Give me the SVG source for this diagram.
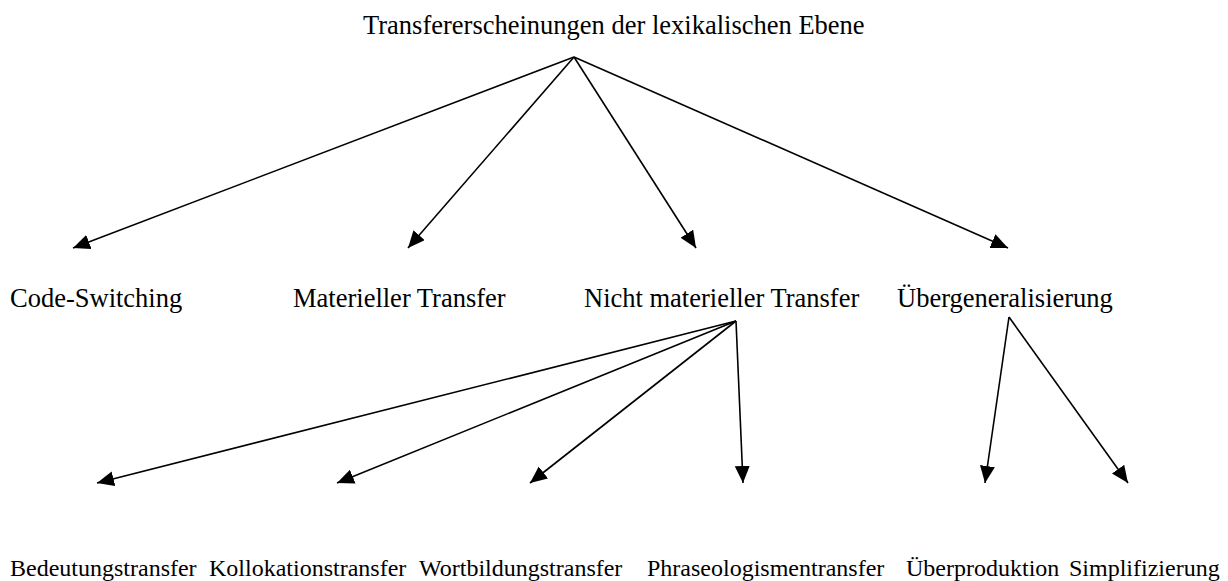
<svg xmlns="http://www.w3.org/2000/svg" width="1228" height="581" viewBox="0 0 1228 581">
<style>
text{font-family:"Liberation Serif","Times New Roman",serif;fill:#000}
.t1{font-size:26.5px}
.t2{font-size:24px}
.c line{stroke:#000;stroke-width:1.6;marker-end:url(#ah)}
</style>
<defs>
<marker id="ah" markerUnits="userSpaceOnUse" markerWidth="18" markerHeight="16" refX="17" refY="7.5" orient="auto">
<path d="M0,0 L17,7.5 L0,15 z" fill="#000"/>
</marker>
</defs>
<rect width="1228" height="581" fill="#fff"/>
<g id="root"><text class="t1" x="363" y="34">Transfererscheinungen der lexikalischen Ebene</text></g>
<g id="code-switching"><text class="t1" x="10" y="307">Code-Switching</text></g>
<g id="materieller"><text class="t1" x="293" y="307">Materieller Transfer</text></g>
<g id="nicht-materieller"><text class="t1" x="584" y="307">Nicht materieller Transfer</text></g>
<g id="uebergeneralisierung"><text class="t1" x="897" y="307">Übergeneralisierung</text></g>
<g id="bedeutung"><text class="t2" x="10" y="576">Bedeutungstransfer</text></g>
<g id="kollokation"><text class="t2" x="209" y="576">Kollokationstransfer</text></g>
<g id="wortbildung"><text class="t2" x="419" y="576">Wortbildungstransfer</text></g>
<g id="phraseologismen"><text class="t2" x="647" y="576">Phraseologismentransfer</text></g>
<g id="ueberproduktion"><text class="t2" x="906" y="576">Überproduktion</text></g>
<g id="simplifizierung"><text class="t2" x="1069" y="576">Simplifizierung</text></g>
<g class="c" id="connectors">
<line x1="574" y1="57" x2="73" y2="248"/>
<line x1="574" y1="57" x2="408" y2="248"/>
<line x1="574" y1="57" x2="696" y2="248"/>
<line x1="574" y1="57" x2="1008" y2="248"/>
<line x1="736" y1="321" x2="97" y2="483"/>
<line x1="736" y1="321" x2="337" y2="483"/>
<line x1="736" y1="321" x2="530" y2="483"/>
<line x1="736" y1="321" x2="743" y2="483"/>
<line x1="1009" y1="317" x2="985" y2="483"/>
<line x1="1009" y1="317" x2="1128" y2="483"/>
</g>
</svg>
